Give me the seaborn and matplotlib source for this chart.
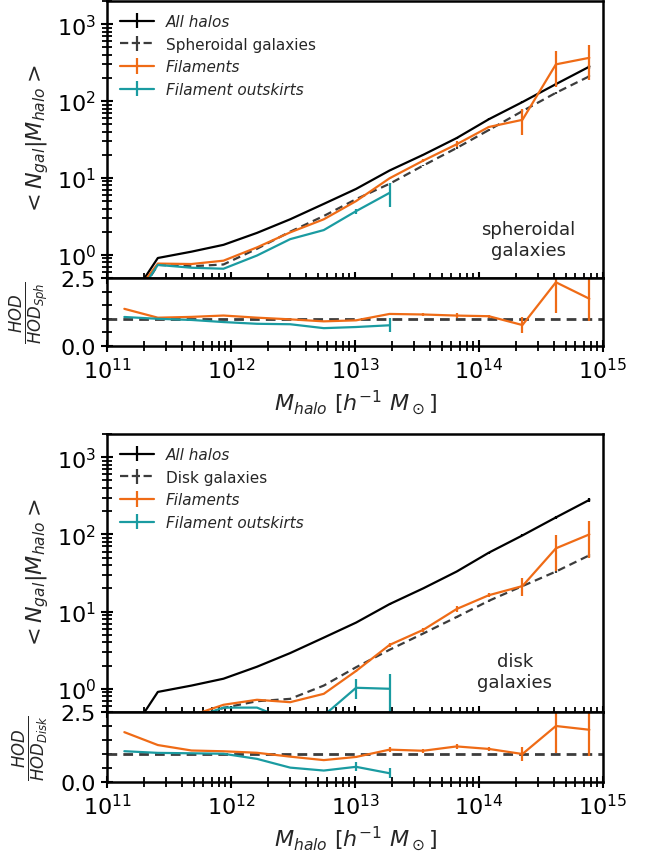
import numpy as np
import pandas as pd
import matplotlib
matplotlib.use("Agg")
import matplotlib.pyplot as plt
import seaborn as sns
from matplotlib.ticker import MultipleLocator, FixedLocator, FormatStrFormatter

sns.set_style("ticks")
plt.rcParams["font.family"] = ["DejaVu Sans"]
plt.rcParams["mathtext.fontset"] = "dejavusans"

# halo mass bin centres [h^-1 Msun]
m_halo = [1.38e11, 2.57e11, 4.8e11, 8.7e11, 1.62e12, 3.0e12, 5.6e12, 1.02e13,
          1.9e13, 3.55e13, 6.6e13, 1.2e14, 2.24e14, 4.17e14, 7.76e14]

# all haloes (same for both populations)
all_halos = [0.20, 0.91, 1.10, 1.35, 1.93, 2.9, 4.6, 7.2, 12.5, 20, 33, 58, 97, 166, 280]
all_halos_err = [0, 0, 0, 0, 0, 0, 0, 0, 0.2, 0.4, 0.8, 1.5, 3, 7, 15]

# spheroidal galaxies
sph = [0.15, 0.74, 0.71, 0.75, 1.2, 2.0, 3.2, 5.3, 8.4, 14.5, 24.5, 42, 74, 128, 210]
sph_err = [0, 0, 0, 0, 0, 0, 0, 0, 0.1, 0.2, 0.4, 0.8, 1.5, 3, 5]
sph_fil = [0.205, 0.77, 0.76, 0.84, 1.25, 1.96, 2.9, 5.0, 9.9, 16.8, 27.4, 46, 57, 300, 365]
sph_fil_err = [0, 0, 0, 0, 0, 0, 0, 0.05, 0.1, 0.9, 2.5, 2, 21, 147, 175]
sph_out = [0.16, 0.74, 0.68, 0.66, 0.98, 1.6, 2.1, 3.7, 6.4]
sph_out_err = [0, 0, 0, 0, 0, 0, 0, 0.27, 2.2]

# disk galaxies
disk = [0.10, 0.25, 0.40, 0.565, 0.69, 0.74, 1.1, 1.9, 3.2, 5.2, 8.5, 13.8, 21.4, 33, 53.6]
disk_err = [0, 0, 0, 0, 0, 0, 0, 0, 0.05, 0.1, 0.2, 0.3, 0.6, 1.0, 2.0]
disk_fil = [0.178, 0.33, 0.45, 0.62, 0.72, 0.67, 0.86, 1.7, 3.7, 5.8, 10.8, 16.3, 21.4, 66, 100]
disk_fil_err = [0, 0, 0, 0, 0, 0, 0, 0.05, 0.26, 0.35, 0.85, 1.0, 5.5, 32, 50]
disk_out = [0.11, 0.26, 0.41, 0.57, 0.57, 0.38, 0.45, 1.03, 1.0]
disk_out_err = [0, 0, 0, 0, 0, 0, 0, 0.3, 0.55]

C_ALL = "black"
C_POP = "#3c3c3c"
C_FIL = "#ef6b16"
C_OUT = "#1a9ba1"
LW = 1.6

W, H = 654, 854
fig = plt.figure(figsize=(W / 100, H / 100), dpi=100)


def frac_box(left, top, right, bottom):
    return [left / W, 1 - bottom / H, (right - left) / W, (bottom - top) / H]


def style_axes(ax):
    for sp in ax.spines.values():
        sp.set_linewidth(1.8)
        sp.set_color("black")
    ax.tick_params(which="both", direction="inout", colors="black",
                   labelsize=16, top=False, right=False)
    ax.tick_params(which="major", length=9, width=1.5)
    ax.tick_params(which="minor", length=6.5, width=1.3)


def long_frame(series):
    rows = []
    for name, vals in series.items():
        rows.append(pd.DataFrame({"m_halo": m_halo[:len(vals)],
                                  "hod": vals, "sample": name}))
    return pd.concat(rows, ignore_index=True)


def draw_population(main_box, ratio_box, pop_label, pop_key, pop, pop_err,
                    fil, fil_err, out, out_err, note):
    ax = fig.add_axes(frac_box(*main_box))
    rx = fig.add_axes(frac_box(*ratio_box), sharex=ax)
    for a in (ax, rx):
        a.set_xscale("log")
    ax.set_yscale("log")

    series = {"All halos": all_halos, pop_label: pop,
              "Filaments": fil, "Filament outskirts": out}
    errors = {"All halos": all_halos_err, pop_label: pop_err,
              "Filaments": fil_err, "Filament outskirts": out_err}
    colors = {"All halos": C_ALL, pop_label: C_POP,
              "Filaments": C_FIL, "Filament outskirts": C_OUT}
    dashes = {"All halos": "", pop_label: (3.5, 2.2),
              "Filaments": "", "Filament outskirts": ""}

    df = long_frame(series)
    sns.lineplot(data=df, x="m_halo", y="hod", hue="sample", style="sample",
                 palette=colors, dashes=dashes, linewidth=LW, estimator=None,
                 sort=True, legend=False, ax=ax)
    handles = []
    for name, vals in series.items():
        n = len(vals)
        ax.errorbar(m_halo[:n], vals, yerr=errors[name], fmt="none",
                    ecolor=colors[name], elinewidth=LW, capsize=0)
        ls = "--" if name == pop_label else "-"
        h = ax.errorbar([np.nan], [np.nan], yerr=[np.nan], fmt="-", ls=ls,
                        color=colors[name], lw=LW, elinewidth=LW, capsize=0,
                        label=name)
        handles.append(h)

    leg = ax.legend(handles=handles, loc="upper left", frameon=False,
                    fontsize=11, handlelength=2.2, labelspacing=0.5,
                    borderaxespad=0.45)
    for t in leg.get_texts():
        if t.get_text() != pop_label:
            t.set_fontstyle("italic")

    ax.text(note[0], note[1], note[2], transform=ax.transAxes, fontsize=13,
            ha="center", va="center", multialignment="center")

    ax.set_xlim(1e11, 1e15)
    ax.set_ylim(0.5, 2000)
    ax.set_xlabel("")
    ax.set_ylabel(r"$< N_{gal} | M_{halo} >$", fontsize=16)
    ax.yaxis.set_label_coords(-0.112, 0.5)
    style_axes(ax)
    ax.tick_params(labelbottom=False)

    # ratio with respect to the whole population
    pop_a = np.array(pop)
    ratio = pd.DataFrame({
        "m_halo": m_halo + m_halo[:len(out)],
        "ratio": list(np.array(fil) / pop_a) + list(np.array(out) / pop_a[:len(out)]),
        "sample": ["Filaments"] * len(fil) + ["Filament outskirts"] * len(out),
    })
    rx.axhline(1.0, color=C_POP, ls="--", lw=2.0, dashes=(3.5, 2.2), zorder=1)
    sns.lineplot(data=ratio, x="m_halo", y="ratio", hue="sample",
                 palette={"Filaments": C_FIL, "Filament outskirts": C_OUT},
                 linewidth=LW, estimator=None, legend=False, ax=rx)
    rx.errorbar(m_halo, np.array(fil) / pop_a, yerr=np.array(fil_err) / pop_a,
                fmt="none", ecolor=C_FIL, elinewidth=LW, capsize=0)
    rx.errorbar(m_halo[:len(out)], np.array(out) / pop_a[:len(out)],
                yerr=np.array(out_err) / pop_a[:len(out)],
                fmt="none", ecolor=C_OUT, elinewidth=LW, capsize=0)
    rx.set_ylim(0, 2.5)
    rx.yaxis.set_major_locator(FixedLocator([0.0, 2.5]))
    rx.yaxis.set_major_formatter(FormatStrFormatter("%.1f"))
    rx.yaxis.set_minor_locator(MultipleLocator(0.5))
    rx.set_xlim(1e11, 1e15)
    rx.set_ylabel(r"$\frac{HOD}{HOD_{%s}}$" % pop_key, fontsize=17)
    rx.yaxis.set_label_coords(-0.112, 0.5)
    rx.set_xlabel(r"$M_{halo}$ [$h^{-1}$ $M_\odot$]", fontsize=16)
    style_axes(rx)


draw_population((107, 2, 603, 279), (107, 279, 603, 347),
                "Spheroidal galaxies", "Sph", sph, sph_err,
                sph_fil, sph_fil_err, sph_out, sph_out_err,
                (0.849, 0.14, "spheroidal\ngalaxies"))
draw_population((107, 435, 603, 713), (107, 713, 603, 783),
                "Disk galaxies", "Disk", disk, disk_err,
                disk_fil, disk_fil_err, disk_out, disk_out_err,
                (0.822, 0.145, "disk\ngalaxies"))

fig.savefig("out.png", dpi=100)
